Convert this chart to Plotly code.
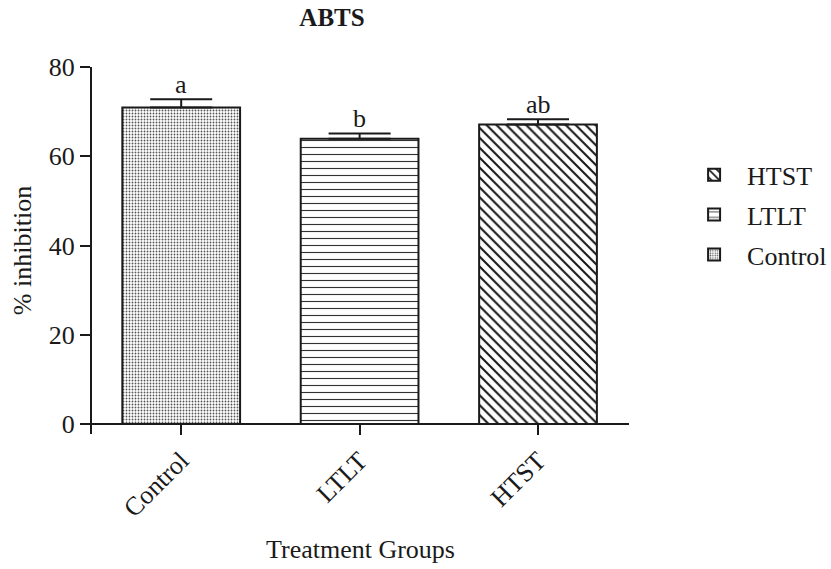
import plotly.graph_objects as go

categories = ["Control", "LTLT", "HTST"]
values = [70.9, 63.9, 67.1]
errors = [1.9, 1.2, 1.2]
letters = ["a", "b", "ab"]
shapes = [".", "-", "\\"]
pattern_sizes = [3, 7, 7]
solidities = [0.3, 0.16, 0.3]
pattern_colors = ["#555555", "#333333", "#1a1a1a"]
y_ticks = [0, 20, 40, 60, 80]

FONT = "Liberation Serif"
INK = "#1a1a1a"
FS = 26

fig = go.Figure()
# legend lists HTST, LTLT, Control (top to bottom)
for i in reversed(range(len(categories))):
    cat = categories[i]
    fig.add_trace(go.Bar(
        x=[i], y=[values[i]], name=cat, width=0.66,
        legendgroup=cat,
        marker=dict(
            color="white",
            line=dict(color=INK, width=2),
            pattern=dict(shape=shapes[i], size=pattern_sizes[i], solidity=solidities[i],
                         fgcolor=pattern_colors[i], bgcolor="white", fillmode="replace"),
        ),
        error_y=dict(type="data", symmetric=False, array=[errors[i]], arrayminus=[0],
                     color=INK, thickness=2, width=31),
    ))
for i in range(len(categories)):
    fig.add_annotation(x=i, y=values[i] + errors[i], text=letters[i], showarrow=False,
                       yanchor="bottom", yshift=-2, font=dict(family=FONT, size=FS, color=INK))

ymin = -2.24
fig.update_layout(
    width=831, height=569,
    margin=dict(l=92, r=202, t=67, b=135, autoexpand=False),
    plot_bgcolor="white", paper_bgcolor="white",
    font=dict(family=FONT, size=FS, color=INK),
    title=dict(text="<b>ABTS</b>", x=332 / 831, xanchor="center", y=1 - 17 / 569, yanchor="middle",
               font=dict(family=FONT, size=25, color=INK)),
    showlegend=True,
    legend=dict(traceorder="grouped", tracegroupgap=3, x=1.097, xanchor="left",
                y=0.77, yanchor="top", font=dict(family=FONT, size=FS, color=INK),
                itemwidth=56, bgcolor="rgba(0,0,0,0)"),
)
fig.update_xaxes(
    range=[-0.5, 2.51], tickmode="array", tickvals=list(range(len(categories))), ticktext=categories,
    tickangle=-45, ticks="outside", ticklen=10, tickwidth=2, tickcolor=INK,
    showline=True, linecolor=INK, linewidth=2, showgrid=False, zeroline=False,
    anchor="free", position=(0 - ymin) / (80 - ymin), automargin=False,
    tickfont=dict(family=FONT, size=FS, color=INK),
    title=dict(text="Treatment Groups", standoff=17, font=dict(family=FONT, size=FS, color=INK)),
)
fig.update_yaxes(
    range=[ymin, 80], tickmode="array", tickvals=y_ticks,
    ticks="outside", ticklen=10, tickwidth=2, tickcolor=INK,
    showline=True, linecolor=INK, linewidth=2, showgrid=False, zeroline=False, automargin=False,
    tickfont=dict(family=FONT, size=FS, color=INK),
    title=dict(text="% inhibition", standoff=10, font=dict(family=FONT, size=FS, color=INK)),
)

fig.write_html("out.html")
